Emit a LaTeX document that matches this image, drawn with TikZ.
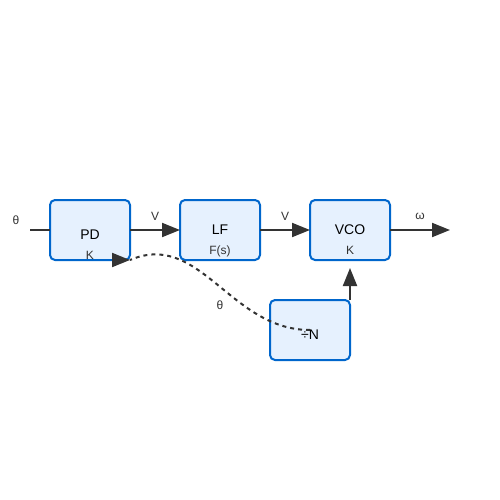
\documentclass[tikz,border=0pt]{standalone}
\usepackage{fontspec}
\setmainfont{Liberation Sans}
\usetikzlibrary{positioning, arrows.meta}

\definecolor{boxline}{HTML}{0066CC}
\definecolor{boxfill}{HTML}{E6F1FE}
\definecolor{wire}{HTML}{333333}

\tikzset{
	block/.style={draw=boxline, fill=boxfill, line width=2pt, rounded corners=5pt,
		minimum width=80pt, minimum height=60pt, inner sep=0pt, outer sep=0pt},
	main/.style={font=\fontsize{14}{16}\selectfont, text=black, inner sep=0pt},
	small/.style={font=\fontsize{12}{14}\selectfont, text=wire, inner sep=0pt},
	signal/.style={draw=wire, line width=2pt, -{Triangle[length=18pt, width=14pt]}},
	feedback/.style={draw=wire, line width=2pt, dash pattern=on 4pt off 4pt},
}

\begin{document}
\begin{tikzpicture}[x=1pt, y=-1pt]
	\useasboundingbox (0,0) rectangle (500,500);
	
	% blocks
	\node[block] (pd) at (90,230) {};
	\node[block, right=50pt of pd] (lf) {};
	\node[block, right=50pt of lf] (vco) {};
	\node[block, below=40pt of vco, xshift=-40pt] (div) {};
	
	\node[main] at (90,235) {PD};
	\node[small] at (90,255) {K};
	\node[main] at (220,230) {LF};
	\node[small] at (220,251) {F(s)};
	\node[main] at (350,230) {VCO};
	\node[small] at (350,250) {K};
	\node[main] at (310,335) {÷N};
	
	% signals
	\coordinate[left=20pt of pd] (in);
	\coordinate[right=60pt of vco] (out);
	\draw[draw=wire, line width=2pt] (in) -- (pd);
	\draw[signal] (pd) -- (lf);
	\draw[signal] (lf) -- (vco);
	\draw[signal] (vco) -- (out);
	\draw[signal] (div.north east) -- ([yshift=-8pt]vco.south);
	
	\node[small] at (16,220) {θ};
	\node[small] at (155,216) {V};
	\node[small] at (285,216) {V};
	\node[small] at (420,216) {ω};
	
	% feedback path
	\draw[feedback] (div.center) .. controls (230,330) and (200,230) .. (pd.south east);
	\draw[signal] ([xshift=-18pt]pd.south east) -- (pd.south east);
	\node[small] at (220,305) {θ};
\end{tikzpicture}
\end{document}
